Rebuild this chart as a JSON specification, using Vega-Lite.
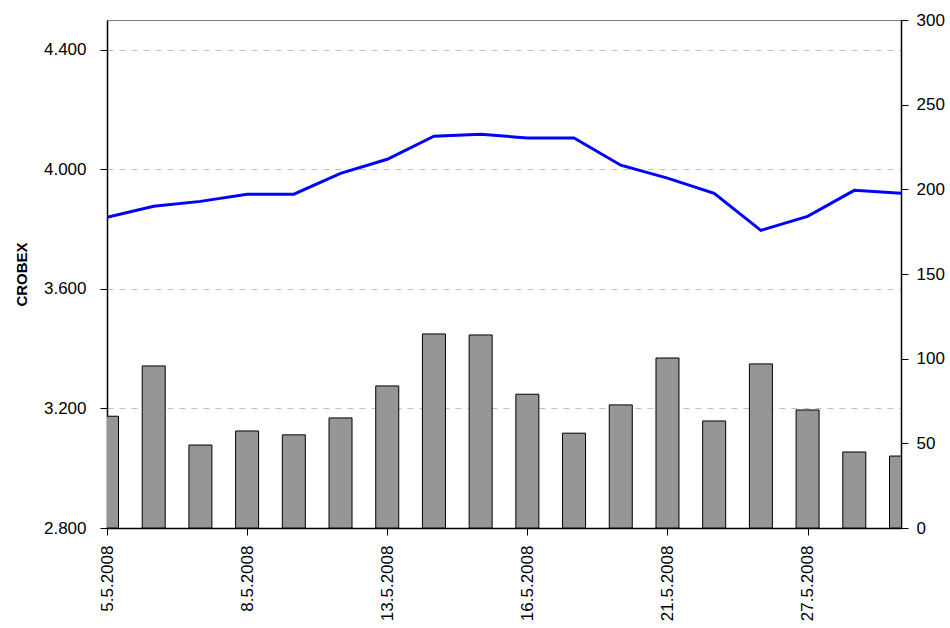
{
  "$schema": "https://vega.github.io/schema/vega-lite/v6.json",
  "autosize": {"type": "none"},
  "padding": {"left": 107, "top": 20, "right": 49, "bottom": 100},
  "width": 794,
  "height": 508,
  "config": {
    "font": "Liberation Sans",
    "view": {"stroke": "#808080", "strokeWidth": 1}
  },
  "data": {
    "values": [
      {"date": "5.5.2008", "crobex": 3840, "volume": 66},
      {"date": "6.5.2008", "crobex": 3877, "volume": 95.7},
      {"date": "7.5.2008", "crobex": 3893, "volume": 49},
      {"date": "8.5.2008", "crobex": 3917, "volume": 57.3},
      {"date": "9.5.2008", "crobex": 3917, "volume": 55},
      {"date": "12.5.2008", "crobex": 3987, "volume": 65},
      {"date": "13.5.2008", "crobex": 4034, "volume": 83.9},
      {"date": "14.5.2008", "crobex": 4111, "volume": 114.6},
      {"date": "15.5.2008", "crobex": 4118, "volume": 114},
      {"date": "16.5.2008", "crobex": 4105, "volume": 79},
      {"date": "19.5.2008", "crobex": 4105, "volume": 56},
      {"date": "20.5.2008", "crobex": 4014, "volume": 72.7},
      {"date": "21.5.2008", "crobex": 3971, "volume": 100.4},
      {"date": "23.5.2008", "crobex": 3920, "volume": 63.2},
      {"date": "26.5.2008", "crobex": 3796, "volume": 96.9},
      {"date": "27.5.2008", "crobex": 3843, "volume": 69.7},
      {"date": "28.5.2008", "crobex": 3930, "volume": 44.9},
      {"date": "29.5.2008", "crobex": 3920, "volume": 42.5}
    ]
  },
  "encoding": {
    "x": {
      "field": "date", "type": "ordinal", "sort": null,
      "scale": {"type": "point", "padding": 0},
      "axis": {
        "title": null,
        "values": ["5.5.2008", "8.5.2008", "13.5.2008", "16.5.2008", "21.5.2008", "27.5.2008"],
        "labelAngle": -90, "labelAlign": "right", "labelBaseline": "middle",
        "labelFont": "Liberation Sans", "labelFontSize": 17, "labelColor": "#000000",
        "domainColor": "#000000", "tickColor": "#000000",
        "tickSize": 7, "labelPadding": 10, "grid": false, "domainWidth": 1.5
      }
    }
  },
  "layer": [
    {
      "mark": {"type": "bar", "size": 23, "color": "#969696", "stroke": "#000000", "strokeWidth": 1, "clip": true},
      "encoding": {
        "y": {
          "field": "volume", "type": "quantitative",
          "scale": {"domain": [0, 300], "nice": false},
          "axis": {"orient": "right", "title": null, "values": [0, 50, 100, 150, 200, 250, 300], "grid": false,
            "labelFont": "Liberation Sans", "labelFontSize": 17, "labelColor": "#000000",
            "domainColor": "#000000", "tickColor": "#000000",
            "tickSize": 7, "labelPadding": 8, "domainWidth": 1.5}
        }
      }
    },
    {
      "mark": {"type": "line", "color": "#0000FF", "strokeWidth": 3, "clip": true},
      "encoding": {
        "y": {
          "field": "crobex", "type": "quantitative",
          "scale": {"domain": [2800, 4500], "nice": false, "zero": false},
          "axis": {
            "orient": "left", "title": "CROBEX", "titleFont": "Liberation Sans", "titleFontWeight": "bold", "titleFontSize": 15, "titleColor": "#000000", "titlePadding": 14,
            "values": [2800, 3200, 3600, 4000, 4400],
            "labelExpr": "replace(format(datum.value, ','), ',', '.')",
            "labelFont": "Liberation Sans", "labelFontSize": 17, "labelColor": "#000000",
            "domainColor": "#000000", "tickColor": "#000000",
            "grid": true, "gridColor": "#c0c0c0", "gridDash": [6, 6], "gridWidth": 1,
            "tickSize": 7, "labelPadding": 14, "domainWidth": 1.5
          }
        }
      }
    }
  ],
  "resolve": {"scale": {"y": "independent"}}
}
